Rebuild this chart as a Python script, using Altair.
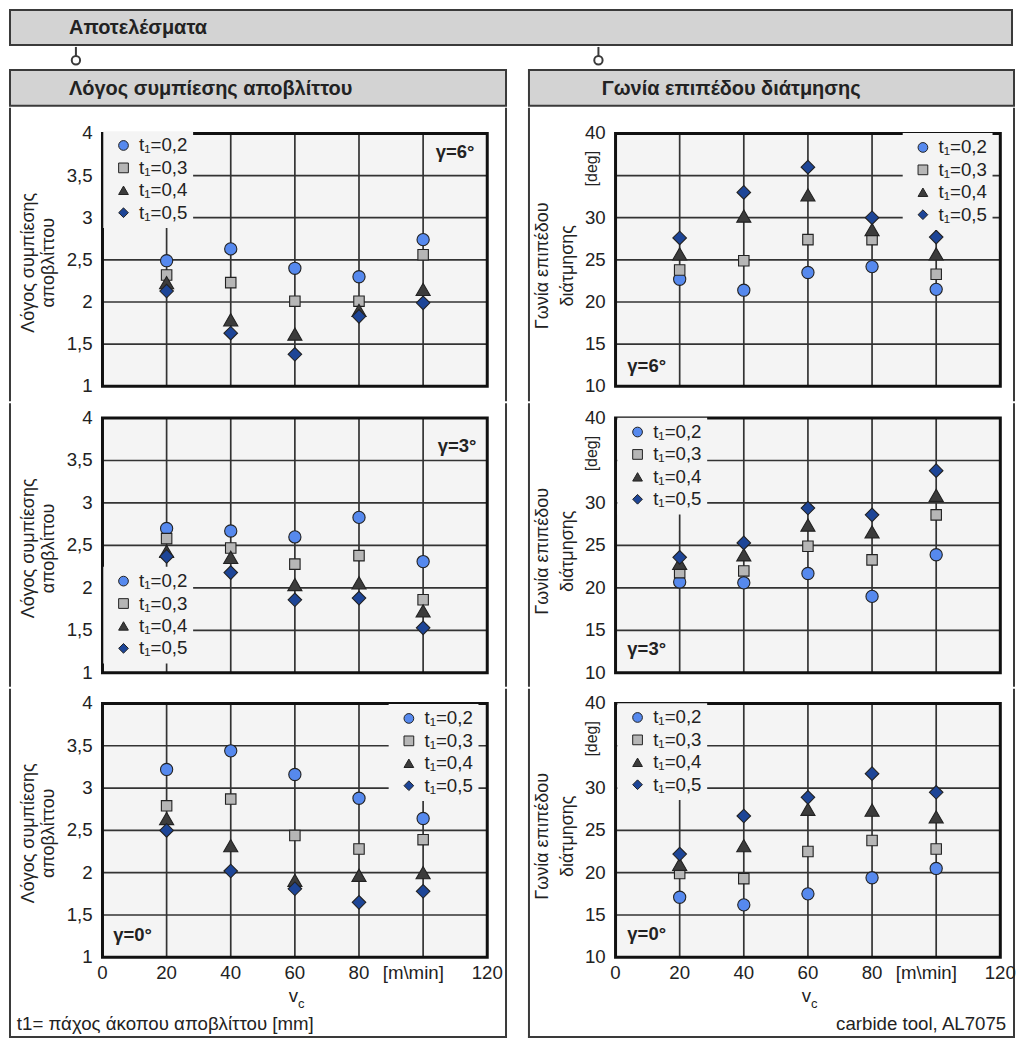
import altair as alt
import pandas as pd

# ---------------- data ----------------
vc = [20, 40, 60, 80, 100]
series_labels = ["t₁=0,2", "t₁=0,3", "t₁=0,4", "t₁=0,5"]

ratio_g6_t02 = [2.49, 2.63, 2.40, 2.30, 2.74]
ratio_g6_t03 = [2.32, 2.23, 2.01, 2.01, 2.56]
ratio_g6_t04 = [2.23, 1.79, 1.62, 1.90, 2.15]
ratio_g6_t05 = [2.13, 1.63, 1.38, 1.83, 1.99]

ratio_g3_t02 = [2.70, 2.67, 2.60, 2.83, 2.31]
ratio_g3_t03 = [2.58, 2.47, 2.28, 2.38, 1.86]
ratio_g3_t04 = [2.43, 2.36, 2.04, 2.06, 1.73]
ratio_g3_t05 = [2.37, 2.18, 1.86, 1.88, 1.53]

ratio_g0_t02 = [3.22, 3.44, 3.16, 2.88, 2.64]
ratio_g0_t03 = [2.79, 2.87, 2.44, 2.28, 2.39]
ratio_g0_t04 = [2.64, 2.32, 1.91, 1.97, 2.00]
ratio_g0_t05 = [2.50, 2.02, 1.81, 1.65, 1.78]

angle_g6_t02 = [22.7, 21.4, 23.5, 24.2, 21.5]
angle_g6_t03 = [23.8, 24.9, 27.4, 27.4, 23.3]
angle_g6_t04 = [25.7, 30.2, 32.7, 28.6, 25.7]
angle_g6_t05 = [27.6, 33.0, 36.0, 30.0, 27.7]

angle_g3_t02 = [20.7, 20.6, 21.7, 19.0, 23.9]
angle_g3_t03 = [21.8, 22.0, 24.9, 23.3, 28.6]
angle_g3_t04 = [22.9, 23.9, 27.4, 26.6, 30.9]
angle_g3_t05 = [23.6, 25.3, 29.4, 28.6, 33.8]

angle_g0_t02 = [17.1, 16.2, 17.5, 19.4, 20.5]
angle_g0_t03 = [19.9, 19.3, 22.5, 23.8, 22.8]
angle_g0_t04 = [21.0, 23.2, 27.5, 27.4, 26.6]
angle_g0_t05 = [22.2, 26.7, 28.9, 31.7, 29.5]

x_ticks = [0, 20, 40, 60, 80, 120]
x_tick_labels = ["0", "20", "40", "60", "80", "120"]
x_unit_tick = [100]
x_unit_label = ["[m\\min]"]
x_grid = [20, 40, 60, 80, 100]
ratio_ticks = [1, 1.5, 2, 2.5, 3, 3.5, 4]
ratio_tick_labels = ["1", "1,5", "2", "2,5", "3", "3,5", "4"]
ratio_grid = [1.5, 2, 2.5, 3, 3.5]
angle_ticks = [10, 15, 20, 25, 30, 40]
angle_tick_labels = ["10", "15", "20", "25", "30", "40"]
angle_unit_tick = [35]
angle_unit_label = ["[deg]"]
angle_grid = [15, 20, 25, 30, 35]

main_title = "Αποτελέσματα"
left_title = "Λόγος συμπίεσης αποβλίττου"
right_title = "Γωνία επιπέδου διάτμησης"
left_ytitle = "Λόγος συμπίεσης\nαποβλίττου"
right_ytitle = "Γωνία επιπέδου\nδιάτμησης"
gamma_labels = ["γ=6°", "γ=3°", "γ=0°"]
left_note = "t1= πάχος άκοπου αποβλίττου [mm]"
right_note = "carbide tool, AL7075"

# ---------------- style ----------------
FONT = "Liberation Sans"
S = 0.986
FS = 18.7
HEADER_FILL = "#d3d3d3"
FRAME = "#3a3a3a"
PLOT_BG = "#f4f4f4"
GRID = "#333333"
BORDER = "#111111"
EDGE = "#222222"
TXT = "#222222"
FILLS = ["#5689ee", "#b6b6b6", "#3c3c3c", "#1d4597"]
SHAPES = ["circle", "square", "triangle-up", "diamond"]
SIZES = [150, 110, 200, 185]


def px(v):
    return round(v * S, 2)


def pxi(v):
    return int(round(v * S))


ROWS = {1: (298, 26, 283), 2: (288, 15, 274), 3: (355, 15, 273)}
LEFT = dict(W=506, x0=95, x1=486, lab=85, tx=20, tlh=21, tdy=3)
RIGHT = dict(W=495, x0=89, x1=480, lab=79, tx=15, tlh=26, tdy=6)

LPX = 5.0      # legend padding (px)
LSO = 5.9      # legend symbol offset (px)
LLO = 6.3      # legend label offset (px)
SYM_IN = 14.9  # symbol centre from legend content left (px)
ROW_IN = 16.0  # first row centre from legend content top (px)


def one():
    return pd.DataFrame({"k": [0]})


def txt(t, x, y, **kw):
    return alt.Chart(pd.DataFrame({"t": [t]})).mark_text(font=FONT, color=TXT, **kw).encode(
        text="t:N", x=alt.value(px(x)), y=alt.value(px(y)))


def plot_cell(col, row, vals, ydom, yticks, ylabels, ygrid, ytitle, sym, gamma, gpos, galign,
              unit=False, note=None, note_align="left", note_x=0):
    W = col["W"]
    H, yt, yb = ROWS[row]
    Wp, Hp = pxi(W), pxi(H)
    xs = alt.Scale(domain=[0, 120], range=[px(col["x0"]), px(col["x1"])], nice=False, zero=False)
    ys = alt.Scale(domain=list(ydom), range=[px(yb), px(yt)], nice=False, zero=False)

    rows = []
    for lab, v in zip(series_labels, vals):
        for x, y in zip(vc, v):
            rows.append({"vc": x, "val": y, "series": lab})
    df = pd.DataFrame(rows)
    bounds = pd.DataFrame({"xa": [0], "xb": [120], "ya": [ydom[0]], "yb": [ydom[1]]})

    layers = [
        alt.Chart(one()).mark_rule(color=FRAME, strokeWidth=2).encode(
            x=alt.value(1), y=alt.value(0), y2=alt.value(Hp)),
        alt.Chart(one()).mark_rule(color=FRAME, strokeWidth=2).encode(
            x=alt.value(Wp - 1), y=alt.value(0), y2=alt.value(Hp)),
    ]
    if row == 3:
        layers.append(alt.Chart(one()).mark_rule(color=FRAME, strokeWidth=2).encode(
            x=alt.value(0), x2=alt.value(Wp), y=alt.value(Hp - 1)))

    layers.append(alt.Chart(bounds).mark_rect(fill=PLOT_BG).encode(
        x=alt.X("xa:Q", scale=xs, axis=None), x2="xb:Q",
        y=alt.Y("ya:Q", scale=ys, axis=None), y2="yb:Q"))
    layers.append(alt.Chart(pd.DataFrame({"g": x_grid, "ya": ydom[0], "yb": ydom[1]}))
                  .mark_rule(color=GRID, strokeWidth=1.7).encode(
        x=alt.X("g:Q", scale=xs, axis=None),
        y=alt.Y("ya:Q", scale=ys, axis=None), y2="yb:Q"))
    layers.append(alt.Chart(pd.DataFrame({"g": ygrid, "xa": 0, "xb": 120}))
                  .mark_rule(color=GRID, strokeWidth=1.7).encode(
        y=alt.Y("g:Q", scale=ys, axis=None),
        x=alt.X("xa:Q", scale=xs, axis=None), x2="xb:Q"))
    layers.append(alt.Chart(bounds).mark_rect(fillOpacity=0, stroke=BORDER, strokeWidth=3).encode(
        x=alt.X("xa:Q", scale=xs, axis=None), x2="xb:Q",
        y=alt.Y("ya:Q", scale=ys, axis=None), y2="yb:Q"))

    # y tick labels through the y scale
    layers.append(alt.Chart(pd.DataFrame({"v": yticks, "l": ylabels})).mark_text(
        font=FONT, fontSize=FS, color=TXT, align="right", baseline="middle").encode(
        y=alt.Y("v:Q", scale=ys, axis=None), x=alt.value(px(col["lab"])), text="l:N"))
    if unit:
        # rotated unit label sits at the 35 tick; dx moves it up along the rotated text
        layers.append(alt.Chart(pd.DataFrame({"v": angle_unit_tick, "l": angle_unit_label})).mark_text(
            font=FONT, fontSize=16, color=TXT, align="center", baseline="middle", angle=270,
            dx=px(7)).encode(
            y=alt.Y("v:Q", scale=ys, axis=None), x=alt.value(px(65)), text="l:N"))
    # x tick labels through the x scale
    if row == 3:
        layers.append(alt.Chart(pd.DataFrame({"v": x_ticks, "l": x_tick_labels})).mark_text(
            font=FONT, fontSize=FS, color=TXT, align="center", baseline="middle").encode(
            x=alt.X("v:Q", scale=xs, axis=None), y=alt.value(px(yb + 16)), text="l:N"))
        layers.append(alt.Chart(pd.DataFrame({"v": x_unit_tick, "l": x_unit_label})).mark_text(
            font=FONT, fontSize=FS, color=TXT, align="center", baseline="middle", dx=-px(10)).encode(
            x=alt.X("v:Q", scale=xs, axis=None), y=alt.value(px(yb + 16)), text="l:N"))

    sx, sy = sym
    leg = alt.Legend(orient="none", legendX=round(px(sx) - LPX - SYM_IN, 2),
                     legendY=round(px(sy) - LPX - ROW_IN, 2), title=None, fillColor=PLOT_BG,
                     padding=LPX, rowPadding=px(2.5), symbolOffset=LSO,
                     labelOffset=LLO, symbolSize=95,
                     symbolStrokeColor=EDGE, symbolStrokeWidth=1, labelFont=FONT,
                     labelFontSize=FS, labelColor=TXT, labelLimit=200)
    cs = alt.Scale(domain=series_labels, range=FILLS)
    ss = alt.Scale(domain=series_labels, range=SHAPES)
    for i, lab in enumerate(series_labels):
        layers.append(alt.Chart(df).transform_filter(alt.datum.series == lab).mark_point(
            filled=True, stroke=EDGE, strokeWidth=1.1, opacity=1, size=SIZES[i]).encode(
            x=alt.X("vc:Q", scale=xs, axis=None),
            y=alt.Y("val:Q", scale=ys, axis=None),
            color=alt.Color("series:N", scale=cs, legend=leg),
            shape=alt.Shape("series:N", scale=ss, legend=leg),
        ))

    # annotations
    layers.append(txt(gamma, gpos[0], gpos[1], align=galign, baseline="middle",
                      fontSize=18.5, fontWeight="bold"))
    ymid = (yt + yb) / 2 + col["tdy"]
    layers.append(txt(ytitle, col["tx"], ymid, align="center", baseline="middle", angle=270,
                      lineBreak="\n", lineHeight=px(col["tlh"]), fontSize=18))
    if row == 3:
        xc = (col["x0"] + col["x1"]) / 2
        layers.append(txt("v", xc - 1.5, 312, align="center", baseline="middle", fontSize=FS))
        layers.append(txt("c", xc + 6.5, 320.5, align="center", baseline="middle", fontSize=13))
        if note:
            layers.append(txt(note, note_x, 341, align=note_align, baseline="middle", fontSize=FS))

    return alt.layer(*layers).properties(width=Wp, height=Hp)


def header_cell(W, H, text, tx):
    Wp, Hp = pxi(W), pxi(H)
    box = alt.Chart(one()).mark_rect(fill=HEADER_FILL, stroke=FRAME, strokeWidth=2).encode(
        x=alt.value(1), x2=alt.value(Wp - 1), y=alt.value(1), y2=alt.value(Hp - 1))
    label = txt(text, tx, H / 2 + 0.5, align="left", baseline="middle", fontSize=20,
                fontWeight="bold")
    return alt.layer(box, label).properties(width=Wp, height=Hp)


RES = dict(color="independent", shape="independent")

# left column
L1 = plot_cell(LEFT, 1, [ratio_g6_t02, ratio_g6_t03, ratio_g6_t04, ratio_g6_t05], (1, 4),
               ratio_ticks, ratio_tick_labels, ratio_grid, left_ytitle, (116, 45),
               gamma_labels[0], (473, 45), "right")
L2 = plot_cell(LEFT, 2, [ratio_g3_t02, ratio_g3_t03, ratio_g3_t04, ratio_g3_t05], (1, 4),
               ratio_ticks, ratio_tick_labels, ratio_grid, left_ytitle, (116, 187.5),
               gamma_labels[1], (475, 43), "right")
L3 = plot_cell(LEFT, 3, [ratio_g0_t02, ratio_g0_t03, ratio_g0_t04, ratio_g0_t05], (1, 4),
               ratio_ticks, ratio_tick_labels, ratio_grid, left_ytitle, (406, 37),
               gamma_labels[2], (106, 250), "left",
               note=left_note, note_align="left", note_x=8)
R1 = plot_cell(RIGHT, 1, [angle_g6_t02, angle_g6_t03, angle_g6_t04, angle_g6_t05], (10, 40),
               angle_ticks, angle_tick_labels, angle_grid, right_ytitle, (401, 47),
               gamma_labels[0], (101, 262), "left", unit=True)
R2 = plot_cell(RIGHT, 2, [angle_g3_t02, angle_g3_t03, angle_g3_t04, angle_g3_t05], (10, 40),
               angle_ticks, angle_tick_labels, angle_grid, right_ytitle, (111, 36),
               gamma_labels[1], (101, 250), "left", unit=True)
R3 = plot_cell(RIGHT, 3, [angle_g0_t02, angle_g0_t03, angle_g0_t04, angle_g0_t05], (10, 40),
               angle_ticks, angle_tick_labels, angle_grid, right_ytitle, (111, 36),
               gamma_labels[2], (101, 249), "left", unit=True,
               note=right_note, note_align="right", note_x=486)

left_col = alt.vconcat(header_cell(LEFT["W"], 39, left_title, 61), L1, L2, L3,
                       spacing=0).resolve_scale(**RES)
right_col = alt.vconcat(header_cell(RIGHT["W"], 39, right_title, 75), R1, R2, R3,
                        spacing=0).resolve_scale(**RES)
body = alt.hconcat(left_col, right_col, spacing=pxi(19)).resolve_scale(**RES)

TOTAL_W = LEFT["W"] + 19 + RIGHT["W"]
top = header_cell(TOTAL_W, 38, main_title, 61)

conn_layers = []
for cx in (68, 599):
    conn_layers.append(alt.Chart(one()).mark_rule(color=FRAME, strokeWidth=2).encode(
        x=alt.value(px(cx)), y=alt.value(0), y2=alt.value(px(10))))
    conn_layers.append(alt.Chart(one()).mark_point(shape="circle", size=70, filled=True, fill="white",
                                                   stroke=FRAME, strokeWidth=2, opacity=1).encode(
        x=alt.value(px(cx)), y=alt.value(px(13.5))))
conn = alt.layer(*conn_layers).properties(width=pxi(TOTAL_W), height=pxi(18))

chart = alt.vconcat(top, conn, body, spacing=0).resolve_scale(**RES).properties(
    padding=0, background="white"
).configure_view(stroke=None).configure_text(font=FONT)

chart.save("out.html", embed_options={"renderer": "svg", "actions": False})
